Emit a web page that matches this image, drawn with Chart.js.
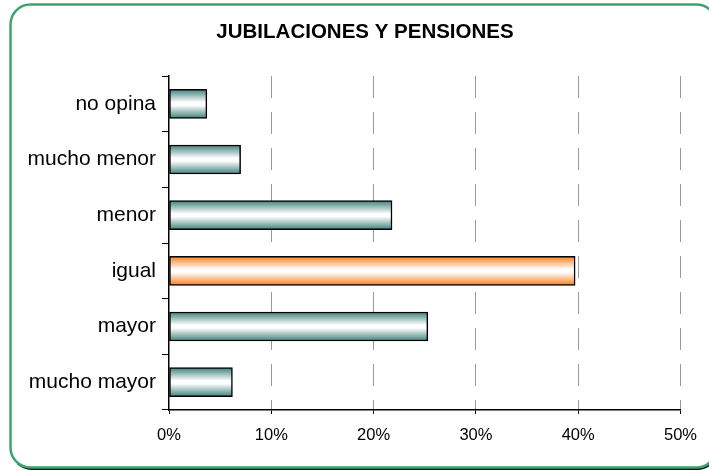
<!DOCTYPE html>
<html>
<head>
<meta charset="utf-8">
<script src="https://cdn.jsdelivr.net/npm/chart.js@4.4.0/dist/chart.umd.min.js"></script>
<style>
  html, body { margin: 0; padding: 0; background: #fff; }
  #wrap { width: 709px; height: 470px; }
</style>
</head>
<body>
<div id="wrap"><canvas id="chart" width="709" height="470"></canvas></div>
<script>
// data
const categories = ['no opina', 'mucho menor', 'menor', 'igual', 'mayor', 'mucho mayor'];
const values = [3.7, 7.0, 21.8, 39.7, 25.3, 6.2];
const highlighted = 'igual';
const xTickValues = [0, 10, 20, 30, 40, 50];
const chartTitle = 'JUBILACIONES Y PENSIONES';

const FONT = "'Liberation Sans', Arial, sans-serif";
const BAR = 29;

function barFill(ctx) {
    var chart = ctx.chart;
    var hot = categories[ctx.dataIndex] === highlighted;
    var edge = hot ? '#f5801c' : '#3f817b';
    if (!chart.scales.y || !chart.chartArea) return edge;
    var c = chart.scales.y.getPixelForValue(ctx.dataIndex);
    var g = chart.ctx.createLinearGradient(0, c - BAR / 2, 0, c + BAR / 2);
    g.addColorStop(0, edge);
    g.addColorStop(0.45, '#ffffff');
    g.addColorStop(0.55, '#ffffff');
    g.addColorStop(1, edge);
    return g;
}

function framePath(c, x, y, w, h, r) {
    c.beginPath();
    c.moveTo(x + r, y);
    c.lineTo(x + w - r, y);
    c.arcTo(x + w, y, x + w, y + r, r);
    c.lineTo(x + w, y + h - r);
    c.arcTo(x + w, y + h, x + w - r, y + h, r);
    c.lineTo(x + r, y + h);
    c.arcTo(x, y + h, x, y + h - r, r);
    c.lineTo(x, y + r);
    c.arcTo(x, y, x + r, y, r);
    c.closePath();
}

// rounded green frame + title
var framePlugin = {
    id: 'frame',
    beforeDraw: function(chart) {
        var c = chart.ctx;
        c.save();
        c.fillStyle = '#fff';
        c.fillRect(0, 0, chart.width, chart.height);
        c.restore();
    },
    afterDraw: function(chart) {
        var c = chart.ctx;
        var x = 10.5, y = 4.5, w = 706, h = 463, r = 20;
        c.save();
        // dark shadow under the bottom edge only
        c.beginPath();
        c.arc(x + r + 1, y + h - r + 1.5, r, 0.75 * Math.PI, 0.5 * Math.PI, true);
        c.lineTo(x + w - r + 1, y + h + 1.5);
        c.arc(x + w - r + 1, y + h - r + 1.5, r, 0.5 * Math.PI, 0, true);
        c.lineWidth = 2;
        c.strokeStyle = '#111';
        c.stroke();
        framePath(c, x, y, w, h, r);
        c.lineWidth = 2.5;
        c.strokeStyle = '#3ca36f';
        c.stroke();
        c.restore();

        c.save();
        c.font = 'bold 20.5px ' + FONT;
        c.fillStyle = '#000';
        c.textAlign = 'center';
        c.textBaseline = 'middle';
        c.fillText(chartTitle, 365, 32);
        c.restore();
    }
};

new Chart(document.getElementById('chart'), {
    type: 'bar',
    data: {
        labels: categories,
        datasets: [{
            data: values,
            backgroundColor: barFill,
            borderColor: '#000',
            borderWidth: 1.5,
            borderSkipped: false,
            barThickness: BAR
        }]
    },
    options: {
        indexAxis: 'y',
        responsive: false,
        animation: false,
        layout: { padding: { top: 76, right: 28, left: 0, bottom: 0 } },
        plugins: {
            legend: { display: false },
            tooltip: { enabled: false },
            title: { display: false }
        },
        scales: {
            x: {
                min: 0,
                max: 50,
                afterFit: function(s) { s.height = 60; },
                afterBuildTicks: function(s) {
                    s.ticks = xTickValues.map(function(v) { return { value: v }; });
                },
                ticks: {
                    color: '#000',
                    font: { family: FONT, size: 16.5 },
                    padding: 12,
                    callback: function(v) { return v + '%'; }
                },
                grid: {
                    color: function(ctx) { return ctx.index === 0 ? 'rgba(0,0,0,0)' : '#999999'; },
                    lineWidth: 1,
                    tickLength: 4,
                    tickColor: '#000'
                },
                border: { color: '#000', width: 1.5, dash: [22, 14] }
            },
            y: {
                afterFit: function(s) { s.width = 169; },
                ticks: {
                    color: '#000',
                    font: { family: FONT, size: 21 },
                    padding: 6
                },
                grid: {
                    drawOnChartArea: false,
                    tickLength: 7,
                    tickColor: '#000'
                },
                border: { color: '#000', width: 1.5 }
            }
        }
    },
    plugins: [framePlugin]
});
</script>
</body>
</html>
